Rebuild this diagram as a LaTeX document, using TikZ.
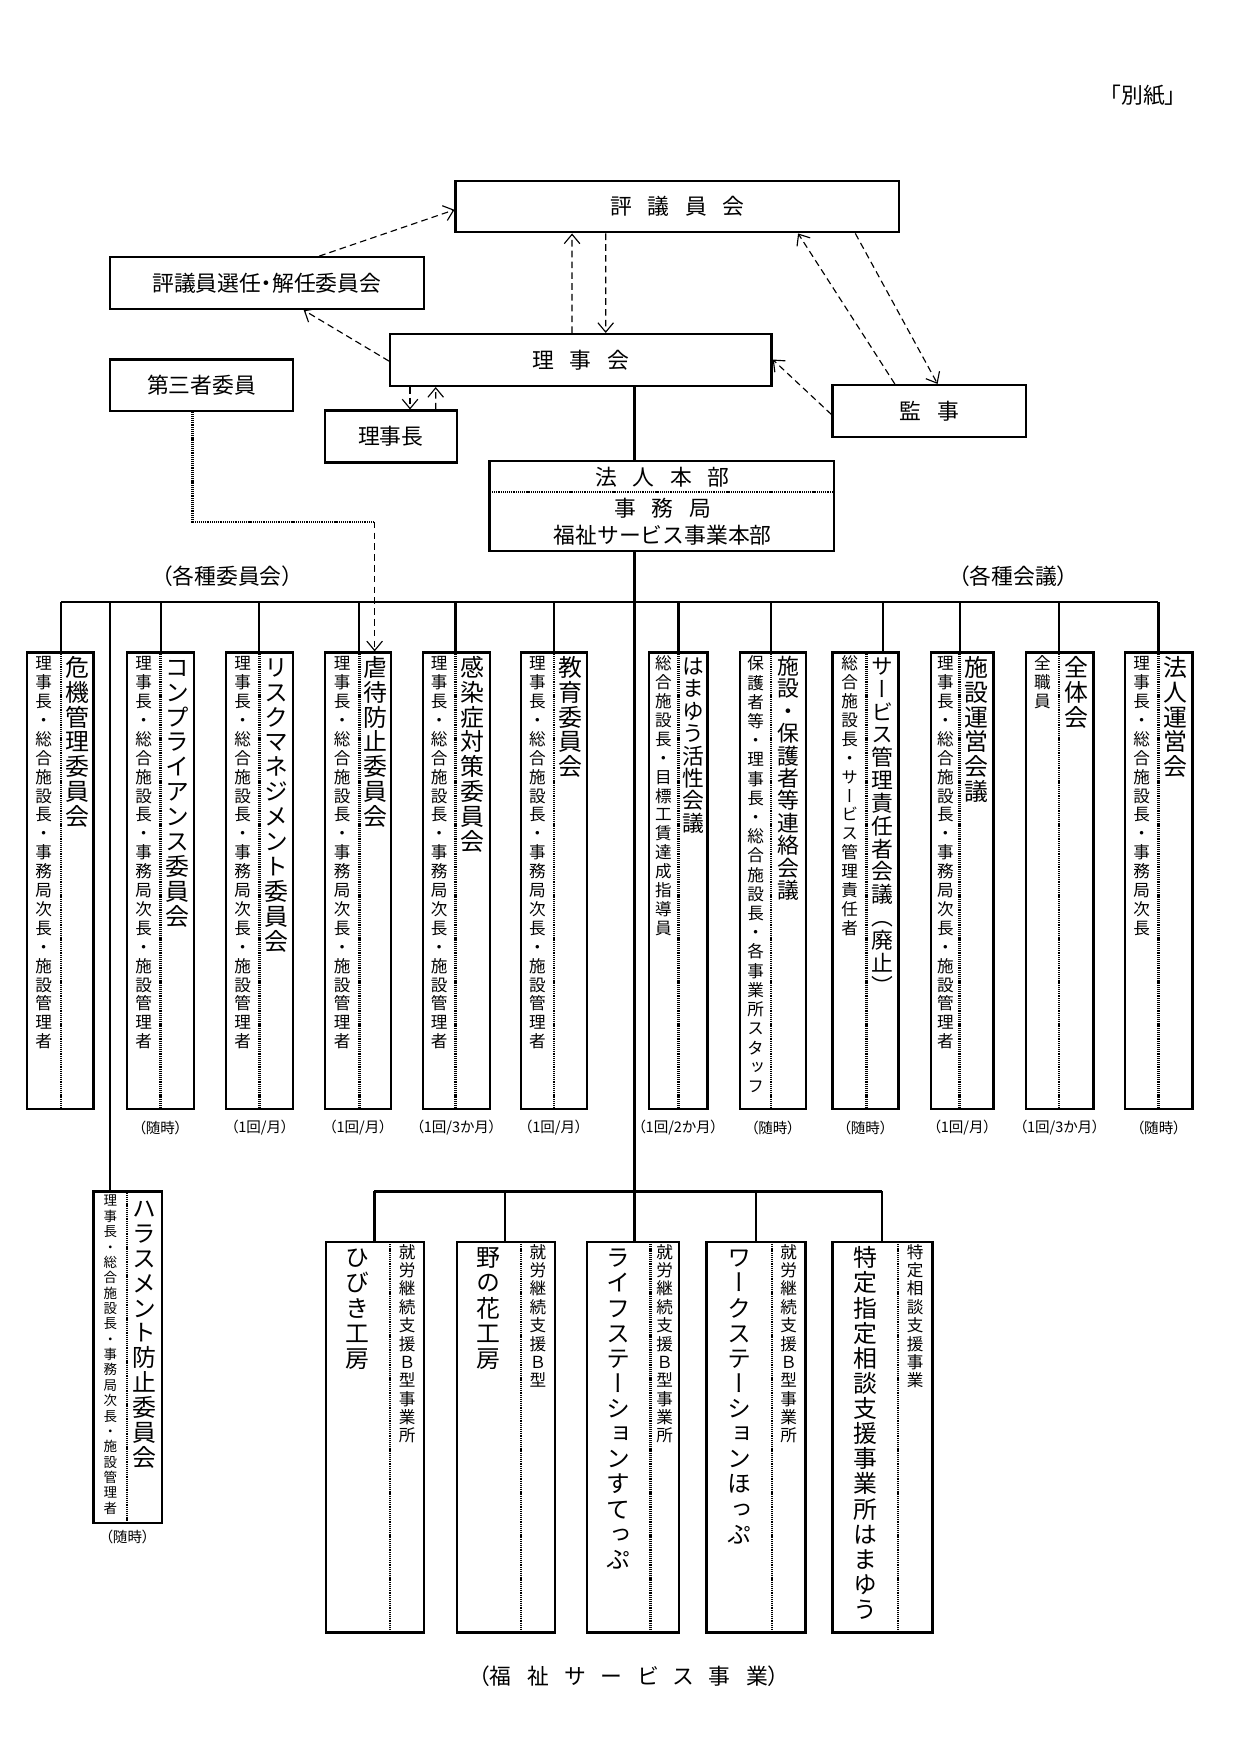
\documentclass[tikz,border=0pt]{standalone}
\usepackage{fontspec}
\setmainfont{Noto Sans CJK JP}
\newfontfamily\vjp[RawFeature=+vert]{Noto Sans CJK JP}
\newfontfamily\pjp[RawFeature=+palt]{Noto Sans CJK JP}
\usetikzlibrary{arrows.meta,calc,positioning}

\newcommand\ux{0.19039mm}
% vertical text: one character per line
\makeatletter
\def\vs@end{\vs@end}
\def\vs@loop#1{\ifx#1\vs@end\else
  \hbox to 1em{\hss#1\hss\vrule height .88em depth .12em width 0pt}%
  \expandafter\vs@loop\fi}
\newcommand\vstack[2]{\vbox{\vjp\baselineskip=#1\lineskiplimit=-\maxdimen
  \expandafter\vs@loop#2\vs@end}}
\makeatother

\tikzset{
  box/.style={draw, line width=1.1pt, inner sep=0pt},
  link/.style={line width=1.1pt},
  arr/.style={line width=0.55pt, dash pattern=on 3.2pt off 2pt,
    -{Straight Barb[length=4.5pt,width=7.5pt,line width=0.55pt]}},
  dots/.style={line width=1.2pt, dash pattern=on 0.5pt off 0.4pt},
  jp/.style={font=\fontsize{10.5}{12}\selectfont},
  spaced/.style={font=\fontsize{10.5}{12}\selectfont\spaceskip 0.72em\relax},
  freq/.style={font=\pjp\fontsize{7}{8}\selectfont},
  vtext/.style={anchor=north, inner sep=0pt},
}

\begin{document}
\begin{tikzpicture}[x=\ux, y=-\ux]
\useasboundingbox (0,0) rectangle (1103,1560);

\node[jp] (besshi) at (1016,84.5) {「別紙」};

% board and officers
\node[box, spaced, minimum width=394*\ux, minimum height=45.6*\ux] (hyogi) at (602,183.7) {評 議 員 会};
\node[box, font=\pjp\fontsize{10.5}{12}\selectfont, minimum width=279*\ux, minimum height=46*\ux] (senin) at (237.2,251.7) {評議員選任・解任委員会};
\node[box, spaced, minimum width=339*\ux, minimum height=46*\ux] (rijikai) at (516.3,320) {理 事 会};
\node[box, jp, minimum width=163*\ux, minimum height=46*\ux] (daisan) at (179.2,342.5) {第三者委員};
\node[box, jp, minimum width=117*\ux, minimum height=46*\ux] (rijicho) at (347.4,388) {理事長};
\node[box, spaced, minimum width=172*\ux, minimum height=46*\ux] (kanji) at (826.1,365.3) {監 事};

% head office
\node[box, minimum width=306.4*\ux, minimum height=79.5*\ux] (honbu) at (588.2,449.8) {};
\node[spaced] (honbu-a) at (589,424) {法 人 本 部};
\node[spaced] (honbu-b) at (589,452) {事 務 局};
\node[jp] (honbu-c) at (589,476) {福祉サービス事業本部};
\draw[dots] ($(honbu.north west)+(0,28.5)$) -- ($(honbu.north east)+(0,28.5)$);

% dashed relations
\draw[arr] ($(senin.north west)+(187,0)$) -- ($(hyogi.north west)+(0,26.6)$);
\draw[arr] ($(rijikai.north west)+(0,25)$) -- ($(senin.south west)+(173.3,0)$);
\draw[arr] ($(rijikai.north west)+(162.7,0)$) -- ($(hyogi.south west)+(104.5,0)$);
\draw[arr] ($(hyogi.south west)+(134.4,0)$) -- ($(rijikai.north west)+(192.6,0)$);
\draw[arr] ($(rijikai.south west)+(18.7,0)$) -- ($(rijicho.north west)+(76.6,0)$);
\draw[arr] ($(rijicho.north west)+(99.4,0)$) -- ($(rijikai.south west)+(41.5,0)$);
\draw[arr] ($(kanji.north west)+(56.3,0)$) -- ($(hyogi.south west)+(305.4,0)$);
\draw[arr] ($(hyogi.south west)+(356.3,0)$) -- ($(kanji.north west)+(94.3,0)$);
\draw[arr] ($(kanji.north west)+(0,27.2)$) -- ($(rijikai.north east)+(0,23.6)$);

\node[font=\pjp\fontsize{10.5}{12}\selectfont] (kakushu-i) at (202,512) {（各種委員会）};
\node[font=\pjp\fontsize{10.5}{12}\selectfont] (kakushu-k) at (900.6,512) {（各種会議）};

% committees and meetings
\foreach \id/\lft/\rgt/\sep/\lnx/\nfs/\npt/\nam/\mpt/\mem/\frq in {
  kiki/23.7/83/54/54/11.5/12/危機管理委員会/9.1/理事長・総合施設長・事務局次長・施設管理者/{},
  compl/112.6/172.4/142.8/142.8/11.5/12/コンプライアンス委員会/9.1/理事長・総合施設長・事務局次長・施設管理者/（随時）,
  risk/201/260.7/230.5/230.5/11.5/12/リスクマネジメント委員会/9.1/理事長・総合施設長・事務局次長・施設管理者/{（1回/月）},
  gyaku/289/347.3/319.4/319.4/11.5/12/虐待防止委員会/9.1/理事長・総合施設長・事務局次長・施設管理者/{（1回/月）},
  kansen/375.7/435.6/405/405/11.5/12/感染症対策委員会/9.1/理事長・総合施設長・事務局次長・施設管理者/{（1回/3か月）},
  kyoiku/462.8/521.5/492.5/492.5/11.5/12/教育委員会/9.1/理事長・総合施設長・事務局次長・施設管理者/{（1回/月）},
  hamayu/576.6/629/603/603/10.5/10.8/はまゆう活性会議/9.1/総合施設長・目標工賃達成指導員/{（1回/2か月）},
  hogo/657.8/716.2/685.4/685.4/10.5/10.8/施設・保護者等連絡会議/9.25/保護者等・理事長・総合施設長・各事業所スタッフ/（随時）,
  sabikan/740/798.6/770.4/784.7/10.5/11/サービス管理責任者会議（廃止）/9.1/総合施設長・サービス管理責任者/（随時）,
  unei/827.6/883/853/853/11.5/12/施設運営会議/9.1/理事長・総合施設長・事務局次長・施設管理者/{（1回/月）},
  zentai/911.8/971.9/941.4/941.4/11.5/12/全体会/9.1/全職員/{（1回/3か月）},
  hojin/1000/1060/1029.7/1029.7/11.5/12/法人運営会/9.1/理事長・総合施設長・事務局次長/（随時）}{
  \node[box, minimum width={(\rgt-\lft)*\ux}, minimum height=406*\ux] (\id) at ({(\lft+\rgt)/2},783) {};
  \draw[dots] (\sep,580) -- (\sep,986);
  \node[vtext, font=\fontsize{8}{8}\selectfont] (\id-m) at ({(\lft+\sep)/2},582) {\vstack{\mpt pt}{\mem}};
  \node[vtext, font=\fontsize{\nfs}{\nfs}\selectfont] (\id-n) at ({(\sep+\rgt)/2},582) {\vstack{\npt pt}{\nam}};
  \coordinate (\id-t) at (\lnx,580);
  \ifx\frq\empty\else
    \node[freq] (\id-f) at ({(\lft+\rgt)/2},1002.5) {\frq};
  \fi
}

% harassment committee
\node[box, minimum width=60.7*\ux, minimum height=295*\ux] (hara) at (113.35,1206.5) {};
\draw[dots] (113,1059) -- (113,1354);
\node[vtext, font=\fontsize{6.5}{6.5}\selectfont] (hara-m) at (98,1061) {\vstack{7.4pt}{理事長・総合施設長・事務局次長・施設管理者}};
\node[vtext, font=\fontsize{11.5}{11.5}\selectfont] (hara-n) at (128.4,1063) {\vstack{12pt}{ハラスメント防止委員会}};
\coordinate (hara-t) at (97.8,1059);
\node[freq] (hara-f) at (113.35,1366) {（随時）};

% welfare service offices
\foreach \id/\lft/\rgt/\sep/\lnx/\nam/\mem in {
  hibiki/289.5/377/346.7/332.8/ひびき工房/就労継続支援Ｂ型事業所,
  nonohana/406/493.4/462.9/449/野の花工房/就労継続支援Ｂ型,
  life/522/603.6/578/564/ライフステーションすてっぷ/就労継続支援Ｂ型事業所,
  work/628/716/686/672/ワークステーションほっぷ/就労継続支援Ｂ型事業所,
  tokutei/740/829/798/784/特定指定相談支援事業所はまゆう/特定相談支援事業}{
  \node[box, minimum width={(\rgt-\lft)*\ux}, minimum height=347*\ux] (\id) at ({(\lft+\rgt)/2},1277.5) {};
  \draw[dots] (\sep,1104) -- (\sep,1451);
  \node[vtext, font=\fontsize{11.5}{11.5}\selectfont] (\id-n) at ({(\lft+\sep)/2},1107) {\vstack{12.1pt}{\nam}};
  \node[vtext, font=\fontsize{8}{8}\selectfont] (\id-m) at ({(\sep+\rgt)/2},1105) {\vstack{8.85pt}{\mem}};
  \coordinate (\id-t) at (\lnx,1104);
}

\node[font=\pjp\fontsize{10.5}{12}\selectfont\spaceskip 0.72em\relax] (fukushi) at (559,1490) {（福 祉 サ ー ビ ス 事 業）};

% solid lines
\coordinate (cbus) at (564,535);
\coordinate (lbus) at (564,1059);
\draw[link] (rijikai.south -| life-t) -- (honbu.north -| life-t);
\draw[link] (honbu.south -| life-t) -- (life-t);
\draw[link] (kiki-t |- cbus) -- (hojin-t |- cbus);
\foreach \id in {kiki,compl,risk,gyaku,kansen,kyoiku,hamayu,hogo,sabikan,unei,zentai,hojin}
  \draw[link] (\id-t |- cbus) -- (\id-t);
\draw[link] (hara-t |- cbus) -- (hara-t);
\draw[link] (hibiki-t |- lbus) -- (tokutei-t |- lbus);
\foreach \id in {hibiki,nonohana,work,tokutei}
  \draw[link] (\id-t |- lbus) -- (\id-t);

% third-party member
\coordinate (dsn) at (333,463.8);
\draw[dots] ($(daisan.south west)+(74.5,0)$) |- (dsn);
\draw[arr] (dsn) -- (dsn |- gyaku.north);

\end{tikzpicture}
\end{document}
